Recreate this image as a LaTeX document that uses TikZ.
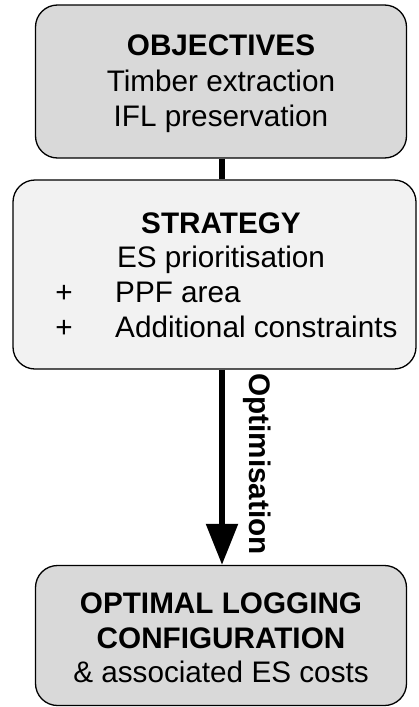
\documentclass[tikz,border=0pt]{standalone}
\usepackage{fontspec}
\setmainfont{Liberation Sans}
\usetikzlibrary{arrows.meta}
\definecolor{boxdark}{HTML}{D9D9D9}
\definecolor{boxlight}{HTML}{F2F2F2}
\tikzset{
  panel/.style={draw=black, line width=1.3pt, rounded corners=22pt, inner sep=0pt},
  txt/.style={font=\fontsize{29.7}{35}\selectfont, inner sep=0pt, anchor=base},
  btxt/.style={txt, font=\fontsize{29.7}{35}\selectfont\bfseries},
  link/.style={line width=5.5pt},
}
\begin{document}
\begin{tikzpicture}[x=1pt,y=-1pt]
\useasboundingbox (0,0) rectangle (418,707);
% boxes
\node[panel, fill=boxdark, minimum width=371pt, minimum height=153pt] (obj) at (221,81.5) {};
\node[panel, fill=boxlight, minimum width=403pt, minimum height=189pt] (str) at (214.5,274.5) {};
\node[panel, fill=boxdark, minimum width=371pt, minimum height=140pt] (opt) at (221,635.5) {};
% connectors
\draw[link] (obj.south -| 222,0) -- (str.north -| 222,0);
\draw[link, -{Triangle[length=41pt,width=31pt]}] (str.south -| 222,0) -- (opt.north -| 222,0);
\node[btxt, rotate=-90] (optlab) at (249,464) {Optimisation};
% texts
\node[btxt] (t1) at (221,55) {OBJECTIVES};
\node[txt] (t2) at (221,91.5) {Timber extraction};
\node[txt] (t3) at (221,126.5) {IFL preservation};
\node[btxt] (s1) at (221,233) {STRATEGY};
\node[txt] (s2) at (221,267.5) {ES prioritisation};
\node[txt] (p1) at (64,302) {+};
\node[txt] (p2) at (64,337) {+};
\node[txt, anchor=base west] (s3) at (115,302) {PPF area};
\node[txt, anchor=base west] (s4) at (115,337) {Additional constraints};
\node[btxt] (o1) at (221,613) {OPTIMAL LOGGING};
\node[btxt] (o2) at (221,648) {CONFIGURATION};
\node[txt] (o3) at (221,682.5) {\& associated ES costs};
\end{tikzpicture}
\end{document}
